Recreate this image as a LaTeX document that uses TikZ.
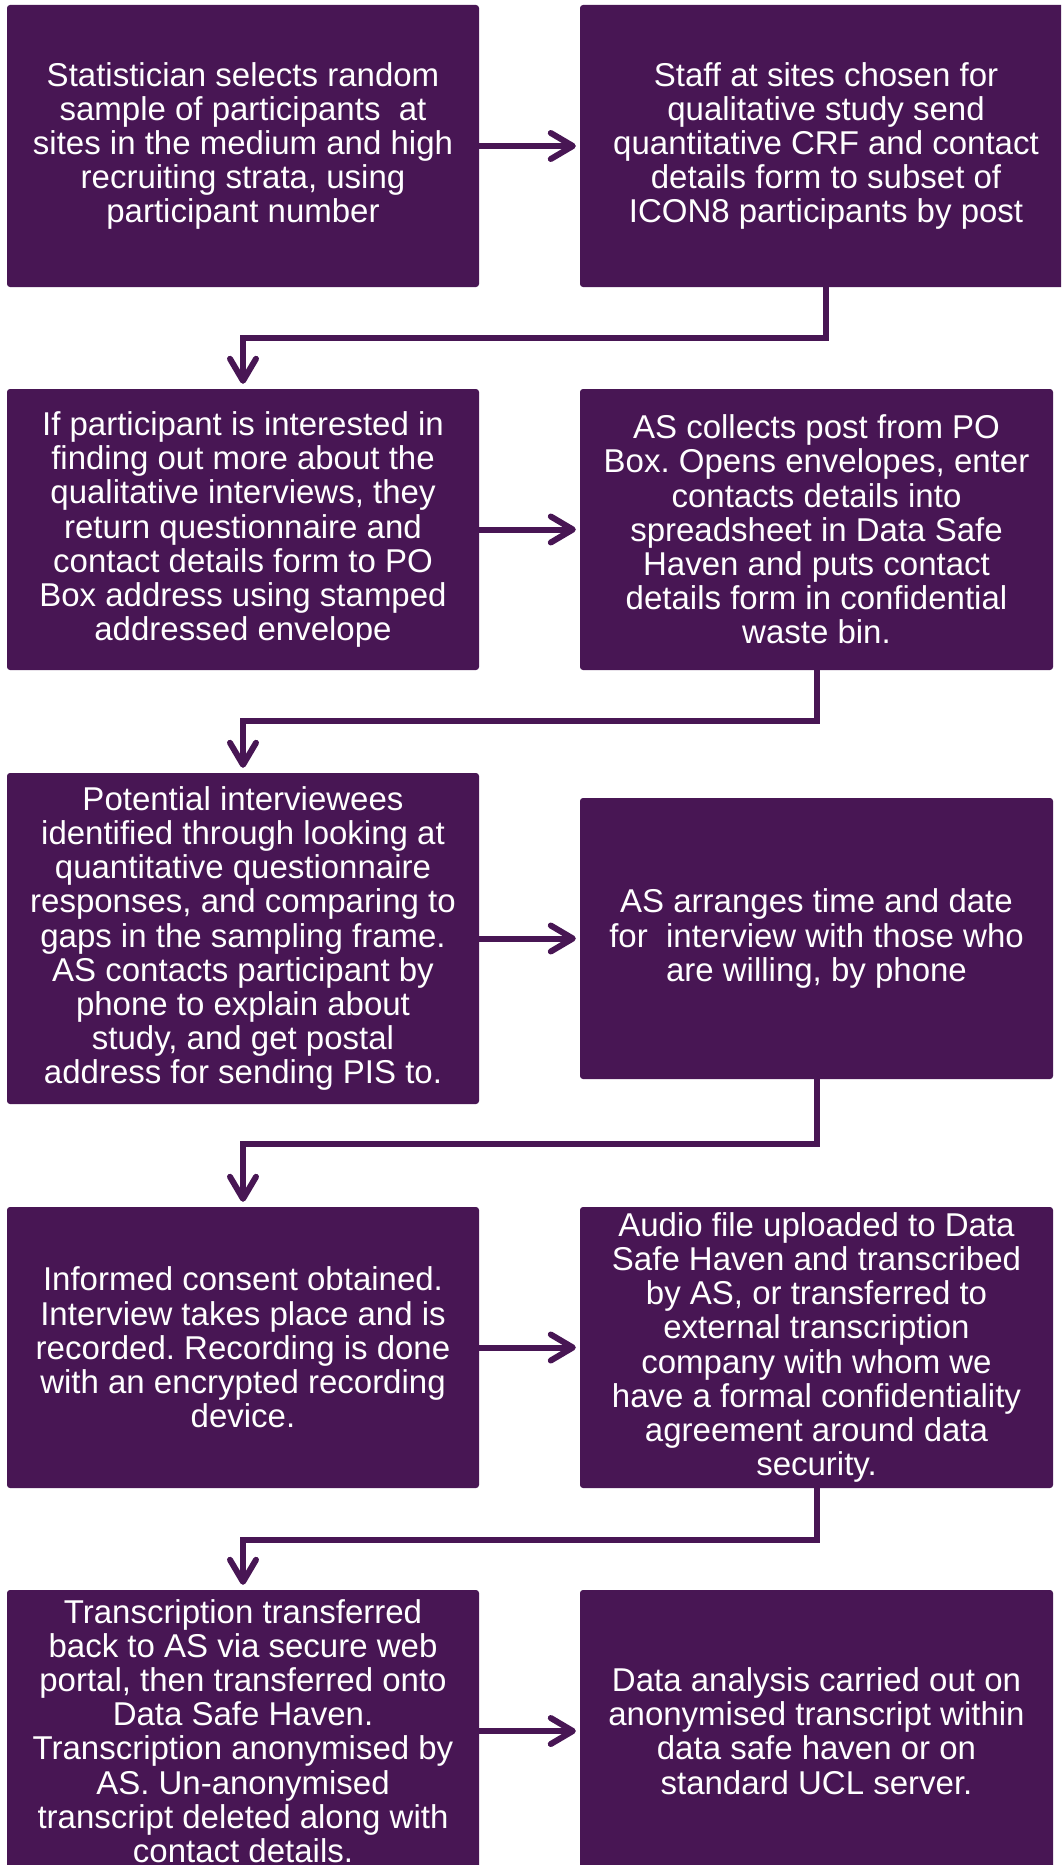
\documentclass[tikz,border=0pt]{standalone}
\usepackage{fontspec}
\setmainfont{Liberation Sans}
\usetikzlibrary{arrows.meta}
\frenchspacing
\definecolor{ucpurple}{RGB}{72,22,84}
\tikzset{
  stepbox/.style={fill=ucpurple, draw=none, rounded corners=3pt, inner sep=0pt,
    text=white, align=center, anchor=center,
    font=\fontsize{33}{34.2}\selectfont},
  conn/.style={draw=ucpurple, line width=6pt, line join=miter,
    -{Straight Barb[length=22pt, width=26pt, round]}, shorten >=5pt},
}
\begin{document}
\begin{tikzpicture}[x=1pt, y=-1pt]
\path[use as bounding box, clip] (0,0) rectangle (1061,1865);

% row 1
\node[stepbox, minimum width=472pt, minimum height=282pt] (b1) at (243,146)
  {Statistician selects random\\sample of participants~ at\\sites in the medium and high\\recruiting strata, using\\participant number};
\node[stepbox, minimum width=492pt, minimum height=282pt] (b2) at (826,146)
  {Staff at sites chosen for\\qualitative study send\\quantitative CRF and contact\\details form to subset of\\ICON8 participants by post};

% row 2
\node[stepbox, minimum width=472pt, minimum height=281pt] (b3) at (243,529.5)
  {If participant is interested in\\finding out more about the\\qualitative interviews, they\\return questionnaire and\\contact details form to PO\\Box address using stamped\\addressed envelope};
\node[stepbox, minimum width=473pt, minimum height=281pt] (b4) at (816.5,529.5)
  {AS collects post from PO\\Box. Opens envelopes, enter\\contacts details into\\spreadsheet in Data Safe\\Haven and puts contact\\details form in confidential\\waste bin.};

% row 3
\node[stepbox, minimum width=472pt, minimum height=331pt] (b5) at (243,938.5)
  {Potential interviewees\\identified through looking at\\quantitative questionnaire\\responses, and comparing to\\gaps in the sampling frame.\\AS contacts participant by\\phone to explain about\\study, and get postal\\address for sending PIS to.};
\node[stepbox, minimum width=473pt, minimum height=281pt] (b6) at (816.5,938.5)
  {AS arranges time and date\\for~ interview with those who\\are willing, by phone};

% row 4
\node[stepbox, minimum width=472pt, minimum height=281pt] (b7) at (243,1347.5)
  {Informed consent obtained.\\Interview takes place and is\\recorded. Recording is done\\with an encrypted recording\\device.};
\node[stepbox, minimum width=473pt, minimum height=281pt] (b8) at (816.5,1347.5)
  {Audio file uploaded to Data\\Safe Haven and transcribed\\by AS, or transferred to\\external transcription\\company with whom we\\have a formal confidentiality\\agreement around data\\security.};

% row 5
\node[stepbox, minimum width=472pt, minimum height=282pt] (b9) at (243,1731)
  {Transcription transferred\\back to AS via secure web\\portal, then transferred onto\\Data Safe Haven.\\Transcription anonymised by\\AS. Un-anonymised\\transcript deleted along with\\contact details.};
\node[stepbox, minimum width=473pt, minimum height=282pt] (b10) at (816.5,1731)
  {Data analysis carried out on\\anonymised transcript within\\data safe haven or on\\standard UCL server.};

% heights of the horizontal runs between rows
\coordinate (j1) at (0,338);
\coordinate (j2) at (0,721);
\coordinate (j3) at (0,1144);
\coordinate (j4) at (0,1540);

% left-to-right arrows
\draw[conn, shorten >=4pt] (b1.east) -- (b2.west);
\draw[conn, shorten >=4pt] (b3.east) -- (b4.west);
\draw[conn, shorten >=4pt] (b5.east) -- (b6.west);
\draw[conn, shorten >=4pt] (b7.east) -- (b8.west);
\draw[conn, shorten >=4pt] (b9.east) -- (b10.west);

% elbow arrows down to the next row
\draw[conn] (b2.south) -- (b2.south |- j1) -- (b3.north |- j1) -- (b3.north);
\draw[conn] (b4.south) -- (b4.south |- j2) -- (b5.north |- j2) -- (b5.north);
\draw[conn] (b6.south) -- (b6.south |- j3) -- (b7.north |- j3) -- (b7.north);
\draw[conn] (b8.south) -- (b8.south |- j4) -- (b9.north |- j4) -- (b9.north);
\end{tikzpicture}
\end{document}
